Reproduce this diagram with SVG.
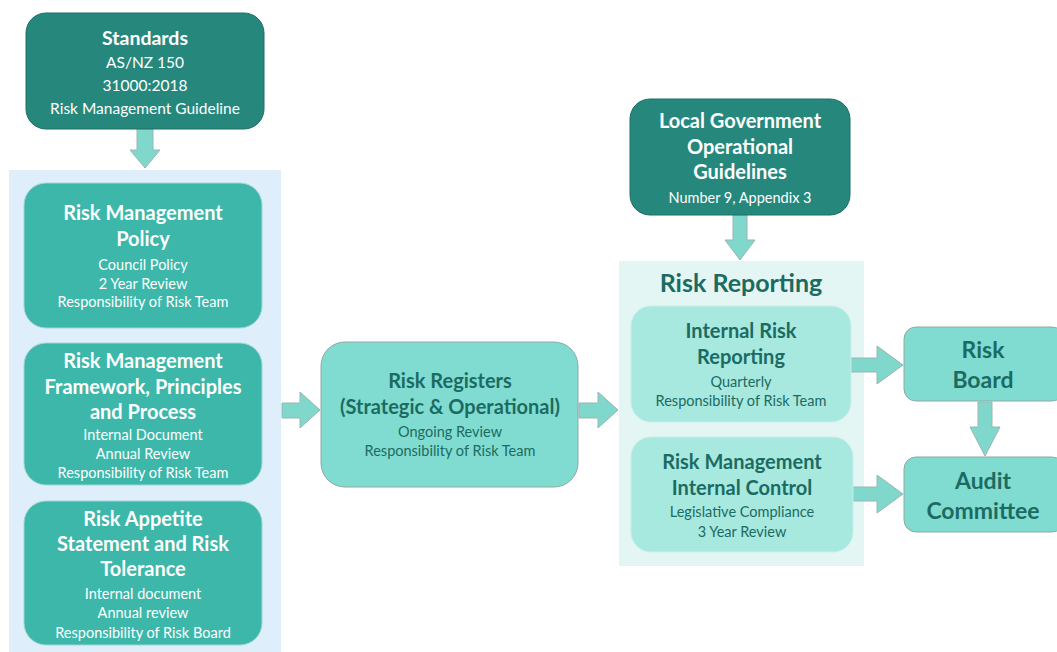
<svg xmlns="http://www.w3.org/2000/svg" width="1057" height="652" viewBox="0 0 1057 652">
<style>
text{font-family:"Lato","Open Sans","Liberation Sans",sans-serif;text-anchor:middle}
.dark{fill:#26887d;stroke:#1f6f66;stroke-width:1}
.mid{fill:#3cb7a9;stroke:#9fd8d0;stroke-width:1}
.light{fill:#80dcd1;stroke:#8fa8a4;stroke-width:1}
.pale{fill:#a7e8df;stroke:#c8efea;stroke-width:1}
.arrow{fill:#80d8cc;stroke:#9bb5b1;stroke-width:1}
.tw{fill:#ffffff;font-weight:bold;font-size:20px}
.sw{fill:#ffffff;font-size:14.5px}
.td{fill:#1c6b62;font-weight:bold;font-size:20px}
.sd{fill:#1c6b62;font-size:14.5px}
</style>
<rect x="9" y="170" width="272" height="482" fill="#dfeefb"/>
<rect x="619" y="261" width="245" height="305" fill="#e4f6f3"/>
<g id="connectors">
<path class="arrow" d="M137,129 V150 H130 L145,168 L160,150 H153 V129 Z"/>
<path class="arrow" d="M282,403 H300 V392 L320,410 L300,428 V418 H282 Z"/>
<path class="arrow" d="M579,403 H598 V392 L618,410 L598,428 V418 H579 Z"/>
<path class="arrow" d="M733,215 V240 H725 L740,260 L755,240 H747 V215 Z"/>
<path class="arrow" d="M851,358 H877 V346 L903,365 L877,384 V372 H851 Z"/>
<path class="arrow" d="M853,487 H877 V475 L903,494 L877,513 V501 H853 Z"/>
<path class="arrow" d="M978,402 V427 H970 L985,456 L1000,427 H992 V402 Z"/>
</g>
<g id="standards">
<rect class="dark" x="26" y="13" width="238" height="116" rx="20"/>
<text x="145" y="45" class="tw" style="font-size:19.5px">Standards</text>
<text x="145" y="68" class="sw" style="font-size:15.5px">AS/NZ 150</text>
<text x="145" y="91" class="sw" style="font-size:15.5px">31000:2018</text>
<text x="145" y="114" class="sw" style="font-size:15.5px">Risk Management Guideline</text>
</g>
<g id="policy">
<rect class="mid" x="24" y="183" width="238" height="145" rx="22"/>
<text x="143" y="220" class="tw">Risk Management</text>
<text x="143" y="246" class="tw">Policy</text>
<text x="143" y="270" class="sw">Council Policy</text>
<text x="143" y="289" class="sw">2 Year Review</text>
<text x="143" y="307" class="sw">Responsibility of Risk Team</text>
</g>
<g id="framework">
<rect class="mid" x="24" y="343" width="238" height="142" rx="22"/>
<text x="143" y="368" class="tw">Risk Management</text>
<text x="143" y="394" class="tw">Framework, Principles</text>
<text x="143" y="419" class="tw">and Process</text>
<text x="143" y="440" class="sw">Internal Document</text>
<text x="143" y="459" class="sw">Annual Review</text>
<text x="143" y="478" class="sw">Responsibility of Risk Team</text>
</g>
<g id="appetite">
<rect class="mid" x="24" y="501" width="238" height="144" rx="22"/>
<text x="143" y="526" class="tw">Risk Appetite</text>
<text x="143" y="551" class="tw">Statement and Risk</text>
<text x="143" y="576" class="tw">Tolerance</text>
<text x="143" y="599" class="sw">Internal document</text>
<text x="143" y="618" class="sw">Annual review</text>
<text x="143" y="638" class="sw">Responsibility of Risk Board</text>
</g>
<g id="registers">
<rect class="light" x="321" y="342" width="257" height="145" rx="24"/>
<text x="450" y="388" class="td">Risk Registers</text>
<text x="450" y="414" class="td">(Strategic &amp; Operational)</text>
<text x="450" y="437" class="sd">Ongoing Review</text>
<text x="450" y="456" class="sd">Responsibility of Risk Team</text>
</g>
<g id="localgov">
<rect class="dark" x="630" y="99" width="220" height="116" rx="20"/>
<text x="740" y="128" class="tw">Local Government</text>
<text x="740" y="154" class="tw">Operational</text>
<text x="740" y="179" class="tw">Guidelines</text>
<text x="740" y="203" class="sw">Number 9, Appendix 3</text>
</g>
<g id="reporting">
<text x="741" y="292" class="td" style="font-size:25px">Risk Reporting</text>
</g>
<g id="internal">
<rect class="pale" x="631" y="306" width="220" height="116" rx="20"/>
<text x="741" y="338" class="td">Internal Risk</text>
<text x="741" y="364" class="td">Reporting</text>
<text x="741" y="387" class="sd">Quarterly</text>
<text x="741" y="406" class="sd">Responsibility of Risk Team</text>
</g>
<g id="control">
<rect class="pale" x="631" y="437" width="222" height="115" rx="20"/>
<text x="742" y="469" class="td">Risk Management</text>
<text x="742" y="495" class="td">Internal Control</text>
<text x="742" y="517" class="sd">Legislative Compliance</text>
<text x="742" y="537" class="sd">3 Year Review</text>
</g>
<g id="board">
<rect class="light" x="904" y="327" width="160" height="74" rx="12"/>
<text x="983" y="358" class="td" style="font-size:23px">Risk</text>
<text x="983" y="388" class="td" style="font-size:23px">Board</text>
</g>
<g id="audit">
<rect class="light" x="904" y="457" width="160" height="75" rx="12"/>
<text x="983" y="489" class="td" style="font-size:23px">Audit</text>
<text x="983" y="519" class="td" style="font-size:23px">Committee</text>
</g>
</svg>
